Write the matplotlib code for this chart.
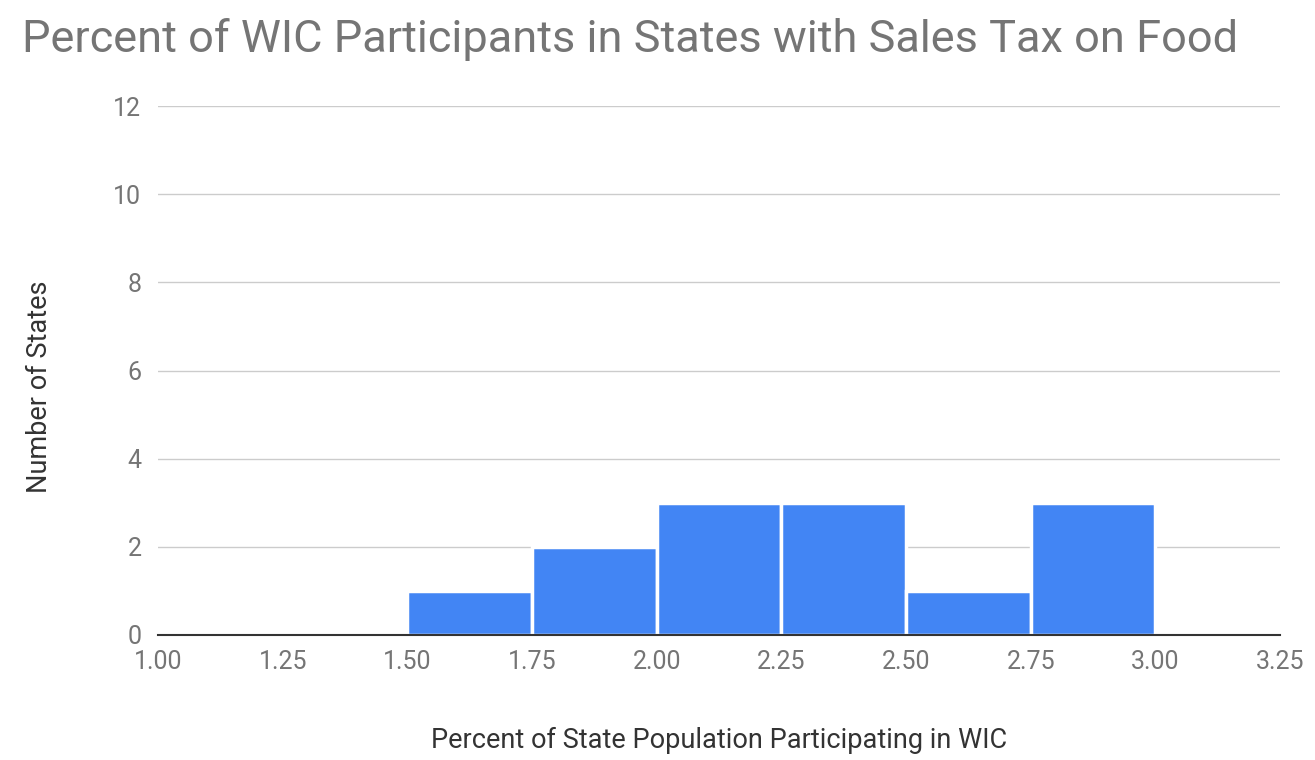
import matplotlib.pyplot as plt
import numpy as np

# histogram bins (left edges) and counts
bin_lefts = [1.50, 1.75, 2.00, 2.25, 2.50, 2.75]
counts = [1, 2, 3, 3, 1, 3]
bin_width = 0.25

x_ticks = [1.00, 1.25, 1.50, 1.75, 2.00, 2.25, 2.50, 2.75, 3.00, 3.25]
y_ticks = [0, 2, 4, 6, 8, 10, 12]

plt.rcParams['font.family'] = ['Roboto', 'DejaVu Sans']

fig = plt.figure(figsize=(13.15, 7.6), dpi=100)
ax = fig.add_axes([0.1202, 0.1645, 0.8532, 0.696])

ax.bar(bin_lefts, counts, width=bin_width, align='edge', color='#4285F4',
       edgecolor='white', linewidth=2.5, zorder=3)

ax.set_xlim(1.0, 3.25)
ax.set_ylim(0, 12)
ax.set_xticks(x_ticks)
ax.set_xticklabels(['%.2f' % v for v in x_ticks])
ax.set_yticks(y_ticks)
ax.grid(axis='y', color='#cccccc', linewidth=1, zorder=0)
ax.tick_params(length=0, labelsize=18, colors='#757575')
ax.tick_params(axis='x', pad=11)
ax.tick_params(axis='y', pad=12)
for side in ['top', 'right', 'left']:
    ax.spines[side].set_visible(False)
ax.spines['bottom'].set_color('#333333')
ax.spines['bottom'].set_linewidth(1.5)
ax.spines['bottom'].set_zorder(4)

ax.set_xlabel('Percent of State Population Participating in WIC', fontsize=19.5,
              color='#333333', labelpad=38)
ax.set_ylabel('Number of States', fontsize=19.5, color='#333333')
ax.yaxis.set_label_coords(-0.094, 0.47)

fig.text(0.017, 0.932, 'Percent of WIC Participants in States with Sales Tax on Food',
         fontsize=32.5, color='#757575', ha='left', va='baseline')

fig.savefig('out.png', dpi=100)
